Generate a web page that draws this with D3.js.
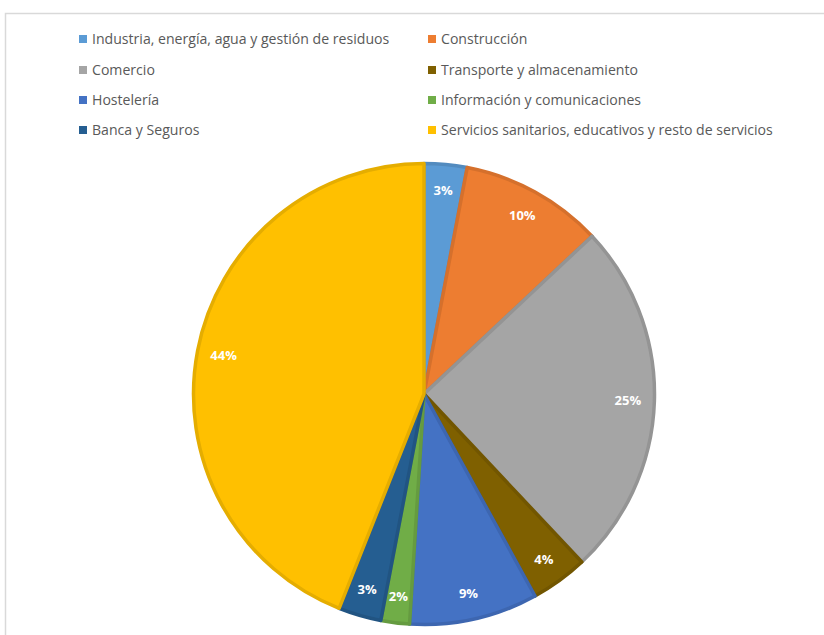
<!DOCTYPE html>
<html><head><meta charset="utf-8">
<script src="https://cdn.jsdelivr.net/npm/d3@7"></script>
<style>body{margin:0;background:#fff;}svg{display:block;}</style>
</head><body>
<script>
const categories = ["Industria, energía, agua y gestión de residuos","Construcción","Comercio","Transporte y almacenamiento","Hostelería","Información y comunicaciones","Banca y Seguros","Servicios sanitarios, educativos y resto de servicios"];
const values = [3,10,25,4,9,2,3,44];
const colors = ["#5B9BD5","#ED7D31","#A5A5A5","#7F6000","#4472C4","#70AD47","#255E91","#FFC000"];

const W=824,H=635;
const svg=d3.select("body").append("svg").attr("width",W).attr("height",H);
svg.append("rect").attr("x",5.5).attr("y",13.5).attr("width",830).attr("height",640)
  .attr("fill","#fff").attr("stroke","#d9d9d9").attr("stroke-width",1.5);

const cx=424, cy=394, R=232;
const pie=d3.pie().sort(null).value(d=>d)(values);
const arc=d3.arc().innerRadius(0).outerRadius(R-1.5);
const g=svg.append("g").attr("transform",`translate(${cx},${cy})`);
g.selectAll("path").data(pie).join("path")
  .attr("d",arc).attr("fill",(d,i)=>colors[i])
  .attr("stroke",(d,i)=>d3.color(colors[i]).darker(0.3)).attr("stroke-width",3.5).attr("stroke-linejoin","round");
const labArc=d3.arc().innerRadius(204).outerRadius(204);
g.selectAll("text").data(pie).join("text")
  .attr("transform",d=>`translate(${labArc.centroid(d)})`)
  .attr("text-anchor","middle").attr("dy","0.35em")
  .attr("font-family","'Open Sans',sans-serif").attr("font-size",13).attr("font-weight","bold")
  .attr("fill","#fff").text(d=>d.data+"%");

const lg=svg.append("g");
const rows=[39,70,100,130], colsX=[79,428];
categories.forEach((c,i)=>{
  const x=colsX[i%2], y=rows[Math.floor(i/2)];
  lg.append("rect").attr("x",x).attr("y",y-4).attr("width",8).attr("height",8).attr("fill",colors[i]);
  lg.append("text").attr("x",x+13).attr("y",y).attr("dy","0.35em")
    .attr("font-family","'Open Sans',sans-serif").attr("font-size",14.1).attr("fill","#595959").text(c);
});
</script>
</body></html>
